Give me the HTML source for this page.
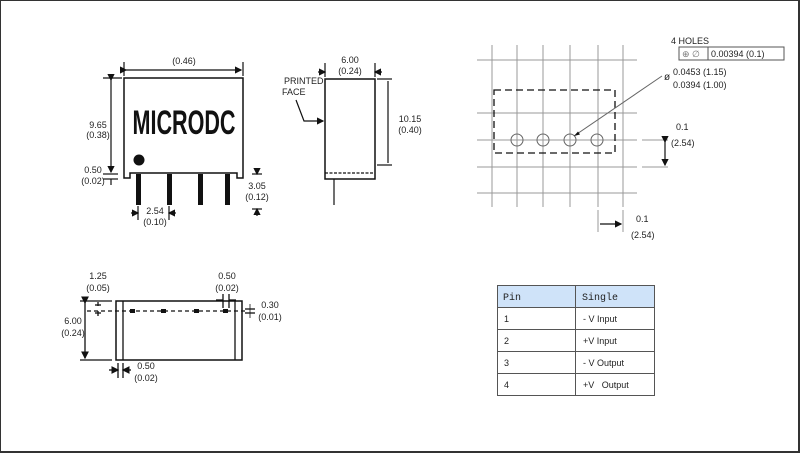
<!DOCTYPE html>
<html><head><meta charset="utf-8"><style>
html,body{margin:0;padding:0;background:#fff}
svg{display:block}
text{font-family:"Liberation Sans",Arial,sans-serif;font-size:9px;fill:#222}
</style></head><body>
<svg width="800" height="453" viewBox="0 0 800 453" xmlns="http://www.w3.org/2000/svg">
<rect x="0.5" y="0.5" width="798" height="451" fill="#fff" stroke="#333" stroke-width="1"/>
<line x1="799" y1="0" x2="799" y2="453" stroke="#333" stroke-width="2"/>
<line x1="0" y1="452" x2="800" y2="452" stroke="#333" stroke-width="2"/>
<defs>
<marker id="a" markerWidth="6" markerHeight="6" refX="5" refY="3" orient="auto"><path d="M0,0 L6,3 L0,6z" fill="#111"/></marker>
</defs>
<g stroke="#111" fill="none" stroke-width="1.2">
<!-- front view -->
<path d="M124,78 H243 V178 H237 V173 H130 V178 H124 Z" stroke-width="1.5"/>
<line x1="124" y1="62" x2="124" y2="76"/><line x1="243" y1="62" x2="243" y2="76"/>
<line x1="126" y1="70" x2="241" y2="70" marker-start="url(#a)" marker-end="url(#a)"/>
<line x1="103" y1="78" x2="122" y2="78"/>
<line x1="111" y1="80" x2="111" y2="172" marker-start="url(#a)" marker-end="url(#a)"/>
<line x1="103" y1="174" x2="118" y2="174"/><line x1="103" y1="179" x2="118" y2="179"/>
<line x1="111" y1="179" x2="111" y2="185"/>
</g>
<g fill="#111">
<rect x="136" y="174" width="5" height="31"/><rect x="167" y="174" width="5" height="31"/>
<rect x="198" y="174" width="5" height="31"/><rect x="225" y="174" width="5" height="31"/>
<circle cx="139" cy="160" r="5.5"/>
</g>
<g stroke="#111" fill="none" stroke-width="1.2">
<line x1="252" y1="174" x2="262" y2="174"/><line x1="252" y1="209" x2="262" y2="209"/>
<line x1="257" y1="168" x2="257" y2="174" marker-end="url(#a)"/><line x1="257" y1="216" x2="257" y2="209" marker-end="url(#a)"/>
<line x1="138" y1="206" x2="138" y2="220"/><line x1="169" y1="206" x2="169" y2="220"/>
<line x1="131" y1="213" x2="138" y2="213" marker-end="url(#a)"/><line x1="176" y1="213" x2="169" y2="213" marker-end="url(#a)"/>
</g>
<text x="184" y="134" text-anchor="middle" textLength="103" lengthAdjust="spacingAndGlyphs" style="font:bold 34px 'Liberation Sans Narrow','Liberation Sans',sans-serif;fill:#111">MICRODC</text>
<text x="184" y="64" text-anchor="middle">(0.46)</text>
<text x="98" y="128" text-anchor="middle">9.65</text><text x="98" y="138" text-anchor="middle">(0.38)</text>
<text x="93" y="173" text-anchor="middle">0.50</text><text x="93" y="184" text-anchor="middle">(0.02)</text>
<text x="257" y="189" text-anchor="middle">3.05</text><text x="257" y="200" text-anchor="middle">(0.12)</text>
<text x="155" y="214" text-anchor="middle">2.54</text><text x="155" y="225" text-anchor="middle">(0.10)</text>
<!-- side view -->
<g stroke="#111" fill="none" stroke-width="1.2">
<rect x="325" y="79" width="50" height="100" stroke-width="1.5"/>
<line x1="325" y1="173" x2="375" y2="173" stroke-dasharray="3,1.5"/>
<line x1="334" y1="179" x2="334" y2="205"/>
<line x1="325" y1="63" x2="325" y2="77"/><line x1="375" y1="63" x2="375" y2="77"/>
<line x1="318" y1="72" x2="325" y2="72" marker-end="url(#a)"/><line x1="382" y1="72" x2="375" y2="72" marker-end="url(#a)"/>
<line x1="377" y1="79" x2="392" y2="79"/><line x1="377" y1="165" x2="392" y2="165"/>
<line x1="388" y1="81" x2="388" y2="163"/>
<path d="M296,100 L304,121 L323,121" marker-end="url(#a)"/>
</g>
<text x="350" y="63" text-anchor="middle">6.00</text><text x="350" y="74" text-anchor="middle">(0.24)</text>
<text x="284" y="84">PRINTED</text><text x="282" y="95">FACE</text>
<text x="410" y="122" text-anchor="middle">10.15</text><text x="410" y="133" text-anchor="middle">(0.40)</text>
<!-- top/pcb -->
<g stroke="#999" stroke-width="1">
<line x1="492" y1="45" x2="492" y2="207"/><line x1="517" y1="45" x2="517" y2="207"/><line x1="543" y1="45" x2="543" y2="207"/>
<line x1="570" y1="45" x2="570" y2="207"/><line x1="598" y1="45" x2="598" y2="207"/><line x1="623" y1="45" x2="623" y2="207"/>
<line x1="477" y1="60" x2="637" y2="60"/><line x1="477" y1="113" x2="637" y2="113"/><line x1="477" y1="140" x2="637" y2="140"/>
<line x1="477" y1="167" x2="637" y2="167"/><line x1="477" y1="193" x2="637" y2="193"/>
<line x1="642" y1="140" x2="668" y2="140"/><line x1="642" y1="167" x2="668" y2="167"/>
<line x1="598" y1="210" x2="598" y2="232"/><line x1="623" y1="210" x2="623" y2="232"/>
</g>
<rect x="494" y="90" width="121" height="63" fill="none" stroke="#111" stroke-width="1.3" stroke-dasharray="7,4"/>
<g fill="none" stroke="#666"><circle cx="517" cy="140" r="6"/><circle cx="543" cy="140" r="6"/><circle cx="570" cy="140" r="6"/><circle cx="597" cy="140" r="6"/>
<line x1="574" y1="136" x2="662" y2="76"/></g>
<path d="M574,136 l6,-1.5 l-2,-3z" fill="#111"/>
<g stroke="#111" stroke-width="1.2"><line x1="665" y1="142" x2="665" y2="165" marker-start="url(#a)" marker-end="url(#a)"/>
<line x1="600" y1="224" x2="621" y2="224" marker-end="url(#a)"/></g>
<text x="671" y="44">4 HOLES</text>
<rect x="679" y="47" width="105" height="13" fill="none" stroke="#555"/>
<line x1="708" y1="47" x2="708" y2="60" stroke="#555"/>
<text x="682" y="57" style="fill:#777">⊕ ∅</text><text x="711" y="57">0.00394 (0.1)</text>
<text x="664" y="80" style="font-size:10px">ø</text>
<text x="673" y="75">0.0453 (1.15)</text><text x="673" y="88">0.0394 (1.00)</text>
<text x="676" y="130">0.1</text><text x="671" y="146">(2.54)</text>
<text x="636" y="222">0.1</text><text x="631" y="238">(2.54)</text>
<!-- bottom view -->
<g stroke="#111" fill="none" stroke-width="1.3">
<rect x="116" y="301" width="126" height="59" stroke-width="1.5"/>
<line x1="123" y1="301" x2="123" y2="360"/><line x1="235" y1="301" x2="235" y2="360"/>
<line x1="87" y1="311" x2="246" y2="311" stroke-dasharray="4,3"/>
<line x1="80" y1="301" x2="112" y2="301"/><line x1="80" y1="360" x2="112" y2="360"/>
<line x1="85" y1="303" x2="85" y2="358" marker-start="url(#a)" marker-end="url(#a)"/>
<line x1="98" y1="302" x2="98" y2="306"/><line x1="95" y1="305" x2="101" y2="305"/>
<line x1="98" y1="316" x2="98" y2="311"/><line x1="95" y1="313" x2="101" y2="313"/>
<line x1="118" y1="363" x2="118" y2="378"/><line x1="123" y1="363" x2="123" y2="378"/>
<line x1="109" y1="370" x2="118" y2="370" marker-end="url(#a)"/><line x1="131" y1="370" x2="123" y2="370" marker-end="url(#a)"/>
<line x1="223" y1="294" x2="223" y2="308"/><line x1="229" y1="294" x2="229" y2="308"/>
<line x1="216" y1="300" x2="223" y2="300"/><line x1="236" y1="300" x2="229" y2="300"/>
<line x1="245" y1="309" x2="255" y2="309"/><line x1="245" y1="313" x2="255" y2="313"/>
<line x1="250" y1="304" x2="250" y2="318" stroke-width="0.8"/>
</g>
<g fill="#111"><rect x="130" y="309" width="5" height="4"/><rect x="161" y="309" width="5" height="4"/><rect x="194" y="309" width="5" height="4"/><rect x="223" y="309" width="5" height="4"/></g>
<text x="98" y="279" text-anchor="middle">1.25</text><text x="98" y="291" text-anchor="middle">(0.05)</text>
<text x="227" y="279" text-anchor="middle">0.50</text><text x="227" y="291" text-anchor="middle">(0.02)</text>
<text x="270" y="308" text-anchor="middle">0.30</text><text x="270" y="320" text-anchor="middle">(0.01)</text>
<text x="73" y="324" text-anchor="middle">6.00</text><text x="73" y="336" text-anchor="middle">(0.24)</text>
<text x="146" y="369" text-anchor="middle">0.50</text><text x="146" y="381" text-anchor="middle">(0.02)</text>
<!-- table -->
<rect x="497" y="285" width="157" height="22" fill="#cfe3f9"/>
<g stroke="#555" stroke-width="1" fill="none">
<rect x="497.5" y="285.5" width="157" height="110"/>
<line x1="575.5" y1="285" x2="575.5" y2="395"/>
<line x1="497" y1="307.5" x2="654" y2="307.5"/><line x1="497" y1="329.5" x2="654" y2="329.5"/>
<line x1="497" y1="351.5" x2="654" y2="351.5"/><line x1="497" y1="373.5" x2="654" y2="373.5"/>
</g>
<text x="503" y="300" style="font-family:'Liberation Mono',monospace;font-size:10px">Pin</text>
<text x="582" y="300" style="font-family:'Liberation Mono',monospace;font-size:10px">Single</text>
<text x="504" y="322">1</text><text x="583" y="322">- V Input</text>
<text x="504" y="344">2</text><text x="583" y="344">+V Input</text>
<text x="504" y="366">3</text><text x="583" y="366">- V Output</text>
<text x="504" y="388">4</text><text x="583" y="388">+V&#160;&#160;&#160;Output</text>
</svg>
</body></html>
